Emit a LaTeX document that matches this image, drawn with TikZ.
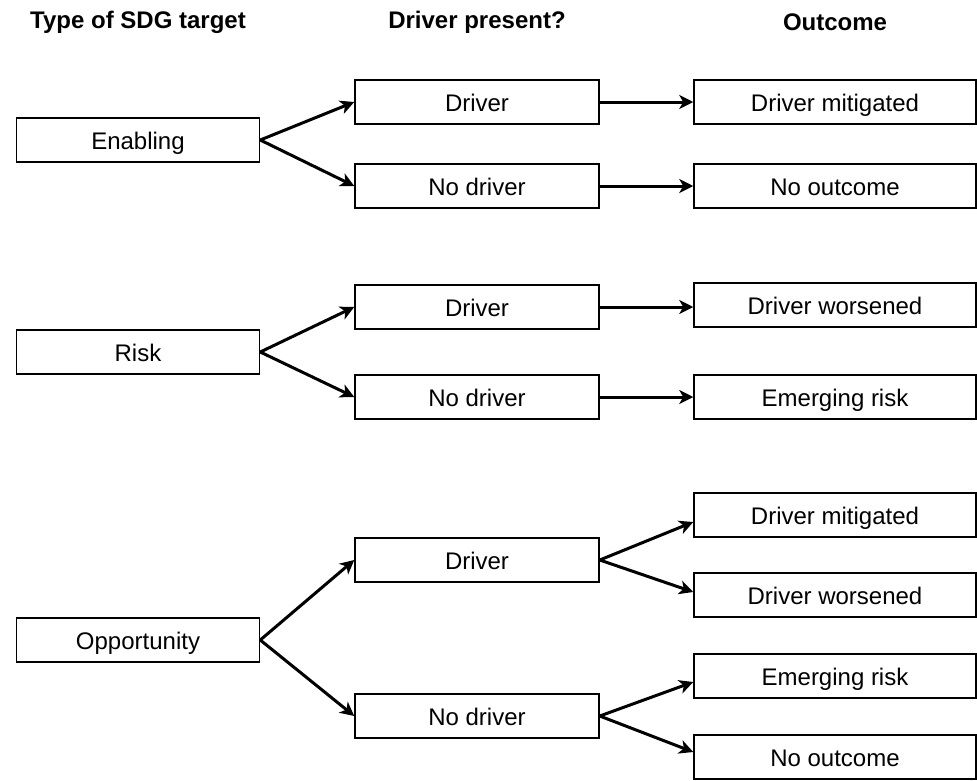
\documentclass[tikz,border=0pt]{standalone}
\usepackage{fontspec}
\setmainfont{Liberation Sans}
\usetikzlibrary{arrows.meta}

\begin{document}
\begin{tikzpicture}[x=1pt, y=-1pt,
  box/.style={draw, line width=1.5pt, minimum height=44pt, inner sep=0pt,
    text height=19pt, text depth=0pt, font=\fontsize{24}{28}\selectfont},
  lvlone/.style={box, minimum width=243pt},
  lvltwo/.style={box, minimum width=244pt},
  lvlthree/.style={box, minimum width=282pt},
  head/.style={font=\fontsize{24}{28}\selectfont\bfseries},
  arr/.style={line width=3pt, -{Stealth[length=14pt, width=14pt, inset=4pt]}}]

  \useasboundingbox (0,0) rectangle (977,780);

  % column headers
  \node[head] (hA) at (138,22) {Type of SDG target};
  \node[head] (hB) at (477,22) {Driver present?};
  \node[head] (hC) at (835,22) {Outcome};

  % Enabling
  \node[lvlone]   (en)   at (138,140) {Enabling};
  \node[lvltwo]   (enD)  at (477,102) {Driver};
  \node[lvltwo]   (enN)  at (477,186) {No driver};
  \node[lvlthree] (enDo) at (835,102) {Driver mitigated};
  \node[lvlthree] (enNo) at (835,186) {No outcome};

  % Risk
  \node[lvlone]   (ri)   at (138,352) {Risk};
  \node[lvltwo]   (riD)  at (477,307) {Driver};
  \node[lvltwo]   (riN)  at (477,397) {No driver};
  \node[lvlthree] (riDo) at (835,305) {Driver worsened};
  \node[lvlthree] (riNo) at (835,397) {Emerging risk};

  % Opportunity
  \node[lvlone]   (op)   at (138,640) {Opportunity};
  \node[lvltwo]   (opD)  at (477,560) {Driver};
  \node[lvltwo]   (opN)  at (477,716) {No driver};
  \node[lvlthree] (opDa) at (835,515) {Driver mitigated};
  \node[lvlthree] (opDb) at (835,595) {Driver worsened};
  \node[lvlthree] (opNa) at (835,676) {Emerging risk};
  \node[lvlthree] (opNb) at (835,757) {No outcome};

  \draw[arr] (en.east) -- (enD.west);
  \draw[arr] (en.east) -- (enN.west);
  \draw[arr] (enD.east) -- (enD.east -| enDo.west);
  \draw[arr] (enN.east) -- (enN.east -| enNo.west);

  \draw[arr] (ri.east) -- (riD.west);
  \draw[arr] (ri.east) -- (riN.west);
  \draw[arr] (riD.east) -- (riD.east -| riDo.west);
  \draw[arr] (riN.east) -- (riN.east -| riNo.west);

  \draw[arr] (op.east) -- (opD.west);
  \draw[arr] (op.east) -- (opN.west);
  \draw[arr] (opD.east) -- ([yshift=-7pt]opDa.west);
  \draw[arr] (opD.east) -- ([yshift=3pt]opDb.west);
  \draw[arr] (opN.east) -- ([yshift=-6pt]opNa.west);
  \draw[arr] (opN.east) -- ([yshift=5pt]opNb.west);
\end{tikzpicture}
\end{document}
